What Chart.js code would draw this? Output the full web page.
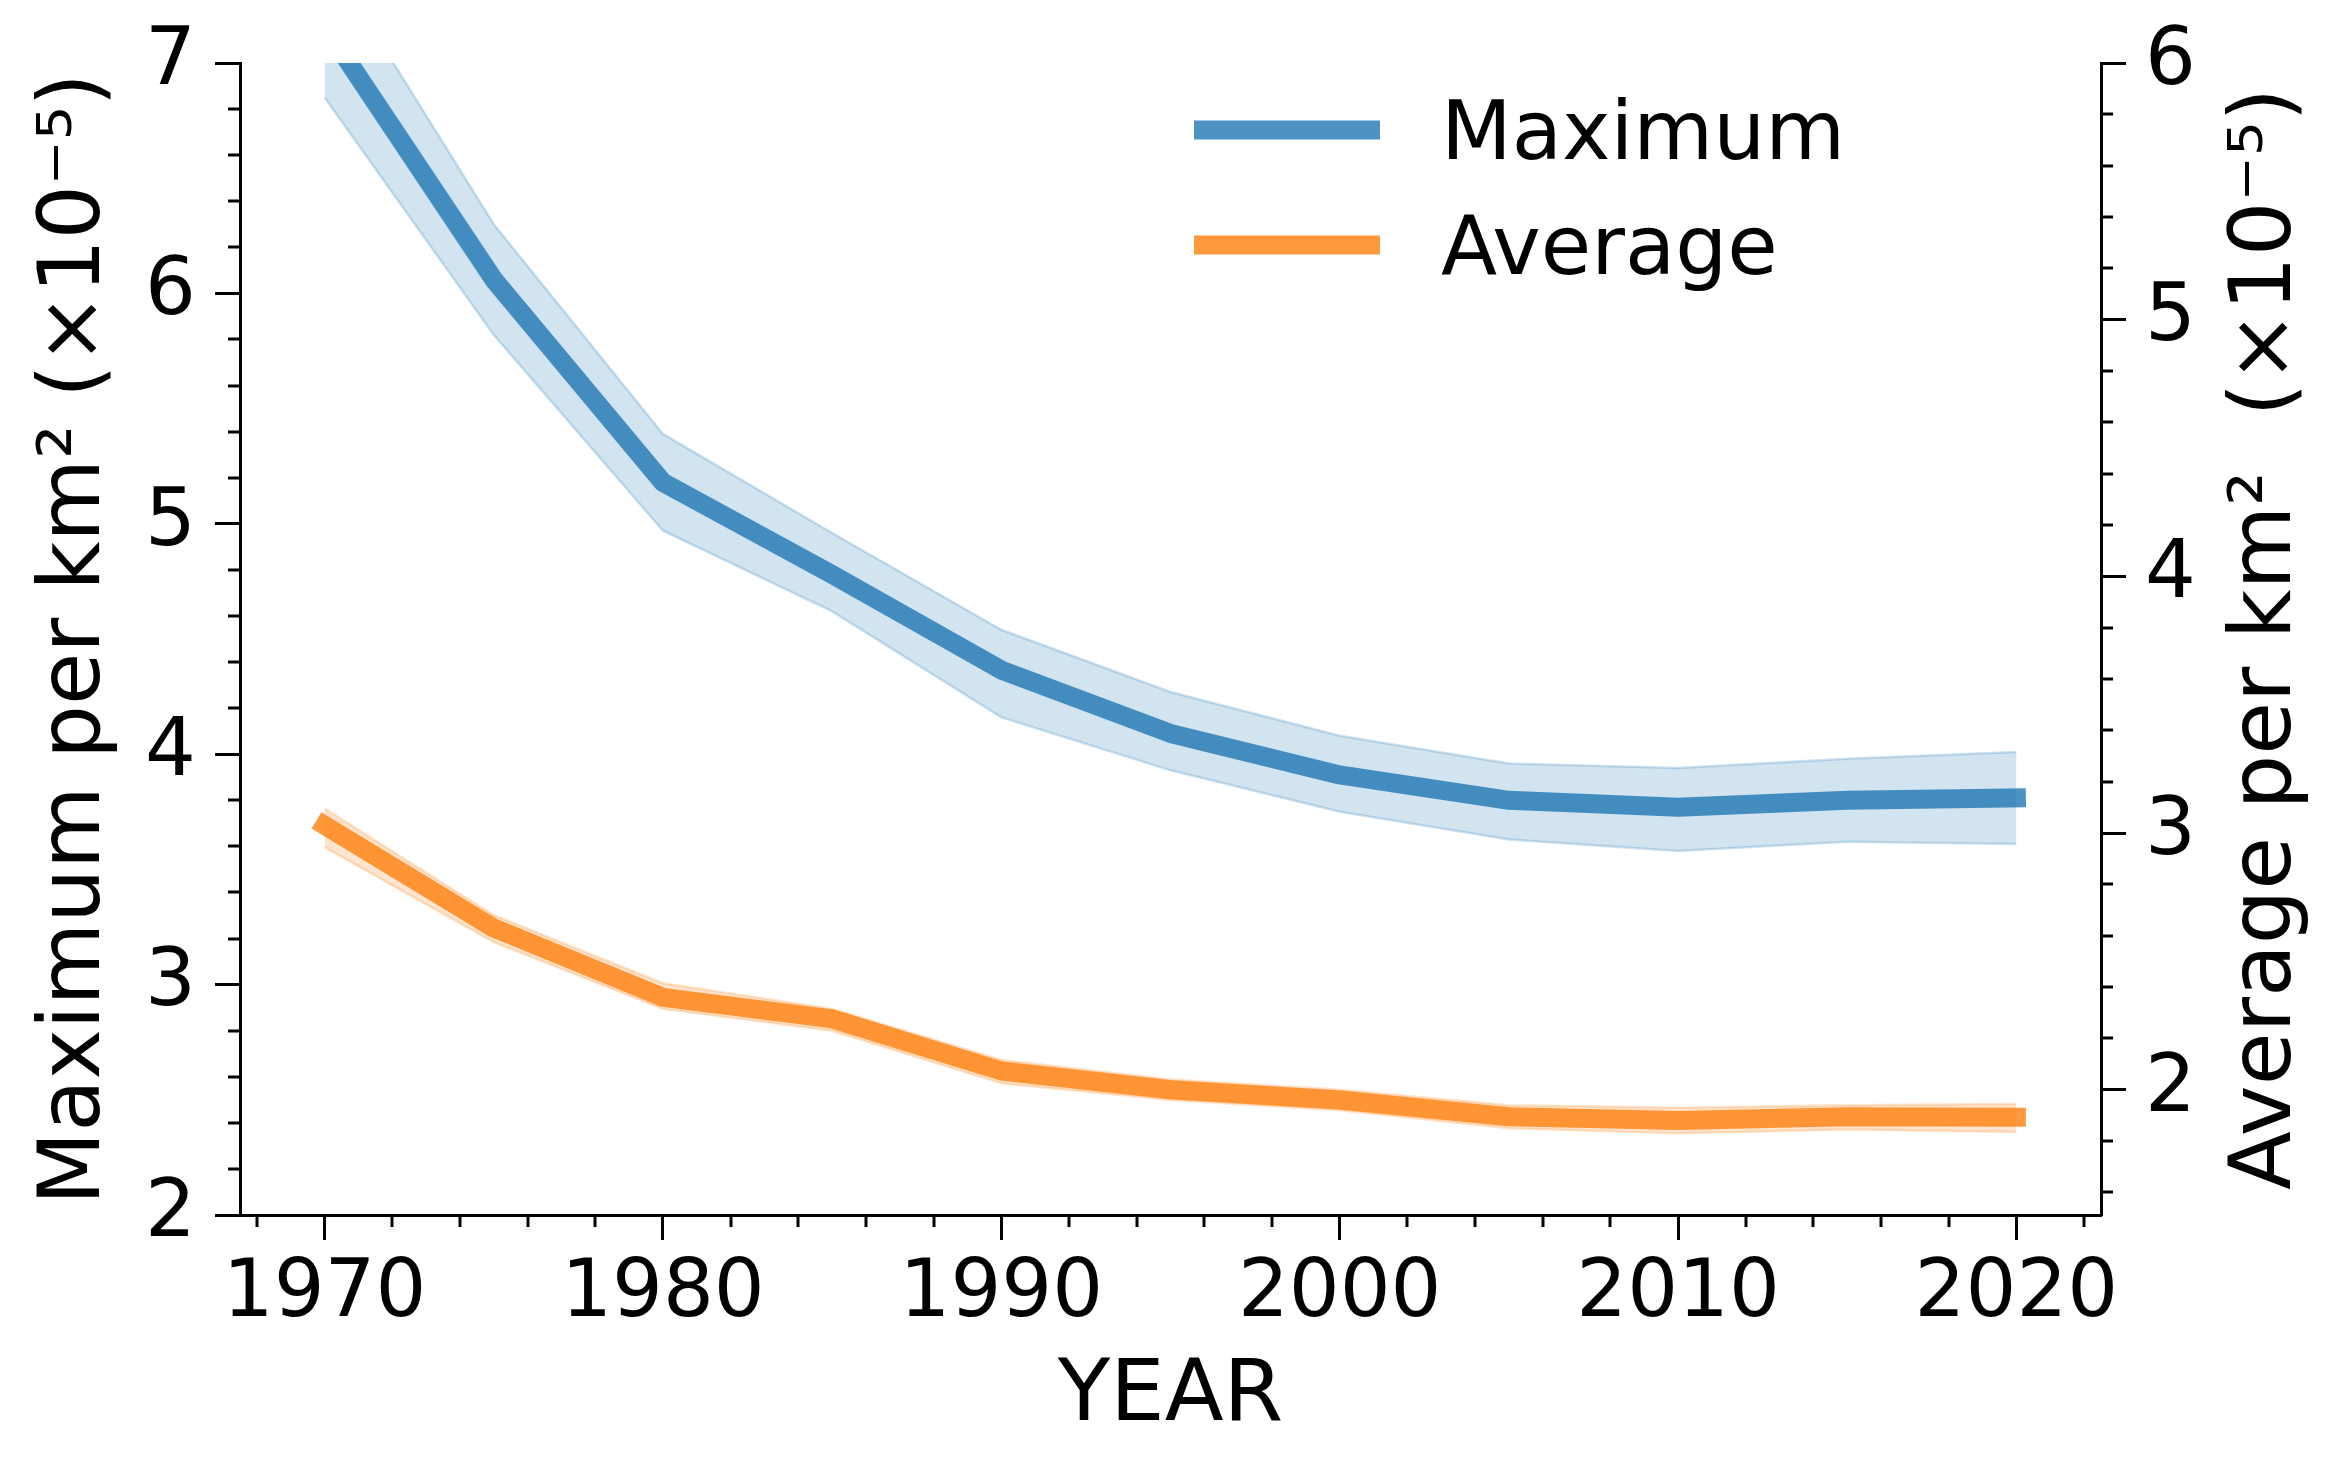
<!DOCTYPE html>
<html>
<head>
<meta charset="utf-8">
<script src="https://cdn.jsdelivr.net/npm/chart.js@4"></script>
<style>
  html, body { margin: 0; padding: 0; background: #fff; }
  #wrap { width: 2340px; height: 1469px; }
</style>
</head>
<body>
<div id="wrap"><canvas id="density-chart" width="2340" height="1469"></canvas></div>
<script>
// values (per km², x 1e-5)
const years = [1970, 1975, 1980, 1985, 1990, 1995, 2000, 2005, 2010, 2015, 2020];

const maxMean  = [7.16, 6.06, 5.18, 4.78, 4.365, 4.09, 3.91, 3.80, 3.77, 3.80, 3.81];
const maxUpper = [7.48, 6.30, 5.39, 4.96, 4.54, 4.27, 4.08, 3.96, 3.94, 3.98, 4.01];
const maxLower = [6.85, 5.82, 4.97, 4.62, 4.16, 3.93, 3.75, 3.63, 3.58, 3.62, 3.61];

const avgMean  = [3.03, 2.63, 2.36, 2.276, 2.073, 2.00, 1.96, 1.895, 1.88, 1.895, 1.893];
const avgUpper = [3.095, 2.68, 2.415, 2.315, 2.116, 2.04, 2.00, 1.94, 1.93, 1.94, 1.944];
const avgLower = [2.945, 2.575, 2.315, 2.23, 2.025, 1.96, 1.92, 1.85, 1.83, 1.845, 1.835];

const xTicks = [1970, 1980, 1990, 2000, 2010, 2020];
const leftTicks = [2, 3, 4, 5, 6, 7];
const rightTicks = [2, 3, 4, 5, 6];

const FONT = "'DejaVu Sans', 'Noto Sans', sans-serif";
const BLUE = 'rgba(31,119,180,0.8)';
const BLUE_BAND = 'rgba(31,119,180,0.2)';
const BLUE_EDGE = 'rgba(31,119,180,0.22)';
const ORANGE = 'rgba(255,127,14,0.8)';
const ORANGE_BAND = 'rgba(255,127,14,0.2)';
const ORANGE_EDGE = 'rgba(255,127,14,0.22)';

const pts = (vals) => years.map((y, i) => ({x: y, y: vals[i]}));
const $$ = el => document.getElementById(el);

const lineSet = (label, vals, color, axis) => ({
    label: label,
    data: pts(vals),
    yAxisID: axis,
    borderColor: color,
    borderWidth: 19,
    borderCapStyle: 'square',
    borderJoinStyle: 'round',
    pointRadius: 0,
    fill: false,
    tension: 0,
    clip: 0,
    order: 0,
    isLine: true
});

const bandSet = (vals, fillColor, edgeColor, axis, fill) => ({
    label: '',
    data: pts(vals),
    yAxisID: axis,
    borderColor: edgeColor,
    borderWidth: 2.5,
    backgroundColor: fillColor,
    pointRadius: 0,
    fill: fill,
    tension: 0,
    clip: 0,
    order: 1
});

// matplotlib-like minor ticks (short, no labels)
const minorTicks = {
    id: 'minorTicks',
    afterDraw(chart, args, opts) {
        const ctx = chart.ctx;
        const area = chart.chartArea;
        ctx.save();
        ctx.strokeStyle = '#000';
        ctx.lineWidth = 3;
        Object.keys(opts.steps).forEach(id => {
            const scale = chart.scales[id];
            const step = opts.steps[id];
            const major = opts.major[id];
            let v = Math.ceil(scale.min / step) * step;
            for (; v <= scale.max + 1e-9; v += step) {
                const val = Math.round(v * 1000) / 1000;
                if (major.some(m => Math.abs(m - val) < 1e-6)) continue;
                const p = Math.round(scale.getPixelForValue(val));
                ctx.beginPath();
                if (id === 'x') {
                    ctx.moveTo(p, area.bottom);
                    ctx.lineTo(p, area.bottom + opts.length);
                } else if (scale.position === 'left') {
                    ctx.moveTo(area.left, p);
                    ctx.lineTo(area.left - opts.length, p);
                } else {
                    ctx.moveTo(area.right, p);
                    ctx.lineTo(area.right + opts.length, p);
                }
                ctx.stroke();
            }
        });
        ctx.restore();
    }
};

// legend inside the plot, top right
const innerLegend = {
    id: 'innerLegend',
    afterDraw(chart) {
        const ctx = chart.ctx;
        const area = chart.chartArea;
        const items = chart.data.datasets.filter(d => d.isLine);
        ctx.save();
        items.forEach((d, i) => {
            const y = area.top + 67 + i * 115;
            ctx.strokeStyle = d.borderColor;
            ctx.lineWidth = 19;
            ctx.lineCap = 'butt';
            ctx.beginPath();
            ctx.moveTo(1194, y);
            ctx.lineTo(1380, y);
            ctx.stroke();
            ctx.fillStyle = '#000';
            ctx.font = '82px ' + FONT;
            ctx.textAlign = 'left';
            ctx.textBaseline = 'alphabetic';
            ctx.fillText(d.label, 1441, y + 29);
        });
        ctx.restore();
    }
};

// right axis title reads bottom-to-top like the left one
const rightTitle = {
    id: 'rightTitle',
    afterDraw(chart, args, opts) {
        const ctx = chart.ctx;
        const area = chart.chartArea;
        ctx.save();
        ctx.translate(area.right + 189, (area.top + area.bottom) / 2);
        ctx.rotate(-Math.PI / 2);
        ctx.fillStyle = '#000';
        ctx.font = '86px ' + FONT;
        ctx.textAlign = 'center';
        ctx.textBaseline = 'alphabetic';
        ctx.fillText(opts.text, 0, 0);
        ctx.restore();
    }
};

const xTickFont = {family: FONT, size: 80};
const yTickFont = {family: FONT, size: 80, lineHeight: 1};
const axisGrid = {drawOnChartArea: false, drawTicks: true, tickLength: 25, tickWidth: 3, tickColor: '#000'};
const axisBorder = {display: true, width: 3, color: '#000'};

const config = {
    type: 'line',
    data: {
        datasets: [
            lineSet('Maximum', maxMean, BLUE, 'y'),
            bandSet(maxUpper, BLUE_BAND, BLUE_EDGE, 'y', '+1'),
            bandSet(maxLower, BLUE_BAND, BLUE_EDGE, 'y', false),
            lineSet('Average', avgMean, ORANGE, 'y1'),
            bandSet(avgUpper, ORANGE_BAND, ORANGE_EDGE, 'y1', '+1'),
            bandSet(avgLower, ORANGE_BAND, ORANGE_EDGE, 'y1', false)
        ]
    },
    options: {
        responsive: false,
        animation: false,
        devicePixelRatio: 1,
        layout: {padding: {top: 63, left: 0, right: 0, bottom: 0}},
        plugins: {
            legend: {display: false},
            tooltip: {enabled: false},
            minorTicks: {
                steps: {x: 2, y: 0.2, y1: 0.2},
                major: {x: xTicks, y: leftTicks, y1: rightTicks},
                length: 12
            },
            rightTitle: {text: 'Average per km²  (×10⁻⁵)'}
        },
        scales: {
            x: {
                type: 'linear',
                min: 1967.5,
                max: 2022.5,
                afterBuildTicks: s => { s.ticks = xTicks.map(v => ({value: v})); },
                afterFit: s => { s.height = 254; },
                grid: axisGrid,
                border: axisBorder,
                ticks: {
                    font: xTickFont, color: '#000', padding: 7,
                    autoSkip: false, maxRotation: 0,
                    callback: v => String(v)
                },
                title: {
                    display: true, text: 'YEAR', color: '#000',
                    font: {family: FONT, size: 86, lineHeight: 1},
                    padding: {top: 0, bottom: 28}
                }
            },
            y: {
                type: 'linear',
                position: 'left',
                min: 2,
                max: 7,
                afterBuildTicks: s => { s.ticks = leftTicks.map(v => ({value: v})); },
                afterFit: s => { s.width = 240; },
                grid: axisGrid,
                border: axisBorder,
                ticks: {font: yTickFont, color: '#000', padding: 19, callback: v => String(v)},
                title: {
                    display: true, text: 'Maximum per km² (×10⁻⁵)', color: '#000',
                    font: {family: FONT, size: 85, lineHeight: 1},
                    padding: {top: 34, bottom: 0}
                }
            },
            y1: {
                type: 'linear',
                position: 'right',
                min: 1.512,
                max: 6,
                afterBuildTicks: s => { s.ticks = rightTicks.map(v => ({value: v})); },
                afterFit: s => { s.width = 239; },
                grid: axisGrid,
                border: axisBorder,
                ticks: {font: yTickFont, color: '#000', padding: 19, callback: v => String(v)}
            }
        }
    },
    plugins: [minorTicks, innerLegend, rightTitle]
};

const densityChart = new Chart($$('density-chart'), config);
</script>
</body>
</html>
